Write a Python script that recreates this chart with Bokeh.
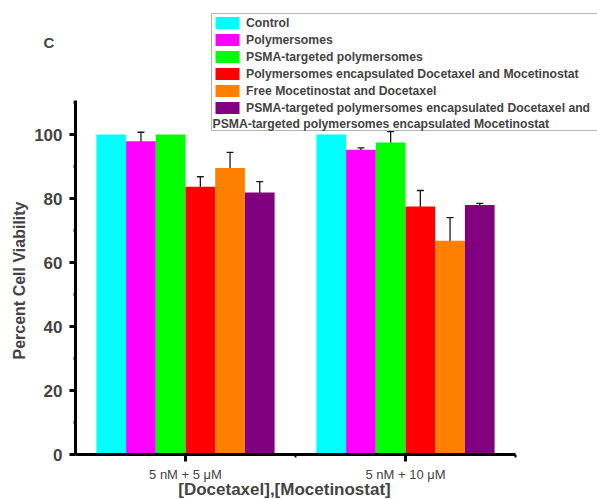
import numpy as np
from bokeh.plotting import figure
from bokeh.models import (ColumnDataSource, Range1d, FixedTicker, Legend, LegendItem,
                          Whisker, TeeHead, Label, BoxAnnotation)
from bokeh.embed import file_html
from bokeh.resources import INLINE

# ---- data ----
groups = ["5 nM + 5 \u03bcM", "5 nM + 10 \u03bcM"]
series = ["Control", "Polymersomes", "PSMA-targeted polymersomes",
          "Polymersomes encapsulated Docetaxel and Mocetinostat",
          "Free Mocetinostat and Docetaxel",
          "PSMA-targeted polymersomes encapsulated Docetaxel and"]
extra_legend_line = "PSMA-targeted polymersomes encapsulated Mocetinostat"
panel_letter = "C"
x_title = "[Docetaxel],[Mocetinostat]"
y_title = "Percent Cell Viability"
colors = ["#00FFFF", "#FF00FF", "#00FF00", "#FF0000", "#FF8000", "#800080"]

control = [100.0, 100.0]
polymersomes = [97.9, 95.2]
psma = [100.0, 97.5]
poly_dm = [83.7, 77.5]
free_dm = [89.5, 66.8]
psma_dm = [81.9, 78.0]
values = [control, polymersomes, psma, poly_dm, free_dm, psma_dm]

err_control = [0.0, 0.0]
err_polymersomes = [2.8, 0.6]
err_psma = [0.0, 3.4]
err_poly_dm = [3.1, 5.0]
err_free_dm = [4.9, 7.2]
err_psma_dm = [3.4, 0.5]
errors = [err_control, err_polymersomes, err_psma, err_poly_dm, err_free_dm, err_psma_dm]

y_ticks = [0, 20, 40, 60, 80, 100]
y_minor = [10, 30, 50, 70, 90, 110]

FONT = "Liberation Sans"
LEG_FS = "12.2px"
W, H = 597, 499
bar_w = 0.135
centers = np.arange(1, len(groups) + 1)

# pixel geometry of the axes box (left/right/bottom of the axis lines)
AX_L, AX_R, AX_B = 75, 515, 454
PX_X = (AX_R - AX_L) / 2.0          # pixels per x unit
PX_Y = 3.2                          # pixels per y unit
x0 = 0.5 - AX_L / PX_X
x1 = x0 + W / PX_X
y0 = -(H - AX_B) / PX_Y
y1 = AX_B / PX_Y


def dx(px):
    return x0 + px / PX_X


def dy(py):
    return (AX_B - py) / PX_Y


p = figure(width=W, height=H, output_backend="svg", toolbar_location=None,
           x_range=Range1d(x0, x1), y_range=Range1d(y0, y1), min_border=0)
p.grid.visible = False
p.outline_line_color = None
p.background_fill_color = "white"
p.border_fill_color = "white"

# legend frame (drawn underneath so the wrapped second line shows inside it)
p.add_layout(BoxAnnotation(left=dx(211), right=dx(640), top=dy(13), bottom=dy(130),
                           fill_color="white", fill_alpha=1, line_color="black",
                           line_width=1, level="underlay"))

items = []
for i, (name, vals, errs, col) in enumerate(zip(series, values, errors, colors)):
    xs = centers + (i - 2.5) * bar_w
    src = ColumnDataSource(dict(x=xs, top=vals))
    r = p.vbar(x="x", top="top", bottom=0, width=bar_w, source=src, fill_color=col,
               line_color=None)
    items.append(LegendItem(label=name, renderers=[r]))
    mask = [e > 0 for e in errs]
    ex = [x for x, m in zip(xs, mask) if m]
    up = [v + e for v, e, m in zip(vals, errs, mask) if m]
    lo = [v - e for v, e, m in zip(vals, errs, mask) if m]
    if ex:
        esrc = ColumnDataSource(dict(x=ex, upper=up, lower=lo))
        w = Whisker(source=esrc, base="x", upper="upper", lower="lower",
                    line_color="#1a1a1a", line_width=1.3,
                    upper_head=TeeHead(size=7, line_color="#1a1a1a", line_width=1.3),
                    lower_head=TeeHead(size=7, line_color="#1a1a1a", line_width=1.3))
        p.add_layout(w)

legend = Legend(items=items, location=(211, H - 116), glyph_width=30, glyph_height=15,
                label_height=15, label_standoff=4, padding=1, spacing=2, margin=0,
                label_text_font=FONT, label_text_font_size=LEG_FS,
                label_text_font_style="bold", border_line_alpha=0,
                background_fill_alpha=0)
p.add_layout(legend)

# second line of the last legend entry, panel letter and axis titles
p.add_layout(Label(x=dx(212), y=dy(123.5), text=extra_legend_line, text_font=FONT,
                   text_font_size=LEG_FS, text_font_style="bold",
                   text_baseline="middle", level="overlay"))
p.add_layout(Label(x=dx(43), y=dy(42), text=panel_letter, text_font=FONT,
                   text_font_size="15px", text_font_style="bold",
                   text_baseline="middle", level="overlay"))
p.add_layout(Label(x=dx(284), y=dy(489), text=x_title, text_font=FONT,
                   text_font_size="17px", text_font_style="bold",
                   text_align="center", text_baseline="middle", level="overlay"))
p.add_layout(Label(x=dx(19), y=dy(280), text=y_title, text_font=FONT,
                   text_font_size="16px", text_font_style="bold", angle=np.pi / 2,
                   text_align="center", text_baseline="middle", level="overlay"))

# axes (drawn at fixed positions inside the full-canvas frame)
xa = p.xaxis[0]
xa.fixed_location = 0
xa.bounds = (0.5, 2.5)
xa.ticker = FixedTicker(ticks=list(centers), minor_ticks=[1.5, 2.5])
xa.major_label_overrides = {int(c): g for c, g in zip(centers, groups)}
xa.major_label_text_font = FONT
xa.major_label_text_font_size = "13px"
xa.major_label_standoff = 5
xa.axis_line_width = 3
xa.axis_line_color = "black"
xa.major_tick_line_width = 3
xa.major_tick_in = 0
xa.major_tick_out = 7
xa.minor_tick_line_width = 2
xa.minor_tick_in = 0
xa.minor_tick_out = 3

ya = p.yaxis[0]
ya.fixed_location = 0.5
ya.bounds = (0, 110.6)
ya.ticker = FixedTicker(ticks=y_ticks, minor_ticks=y_minor)
ya.major_label_text_font = FONT
ya.major_label_text_font_size = "17px"
ya.major_label_text_font_style = "bold"
ya.major_label_standoff = 7
ya.axis_line_width = 3
ya.axis_line_color = "black"
ya.major_tick_line_width = 3
ya.major_tick_in = 0
ya.major_tick_out = 6
ya.minor_tick_line_width = 2
ya.minor_tick_in = 1
ya.minor_tick_out = 2

open("out.html", "w").write(file_html(p, INLINE))
